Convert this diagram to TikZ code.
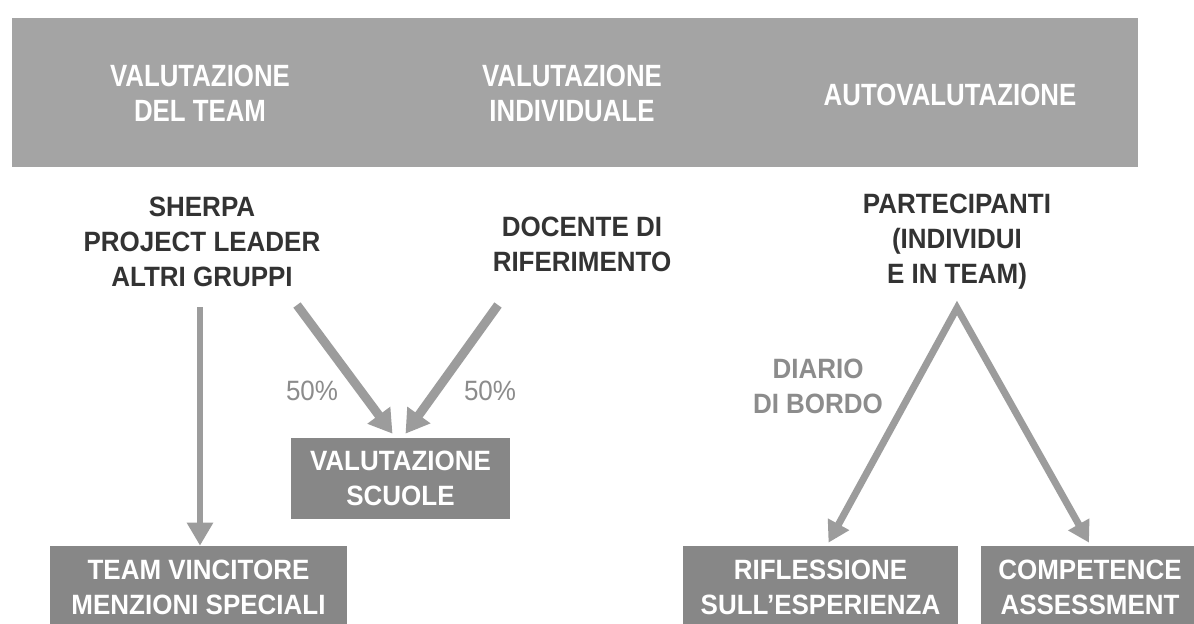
\documentclass[tikz,border=0pt]{standalone}
\usepackage{fontspec}
\setmainfont[FakeStretch=0.93]{Liberation Sans}
\newfontfamily\narrowfont[FakeStretch=0.84]{Liberation Sans}
\usetikzlibrary{arrows.meta,calc}
\definecolor{bandgrey}{HTML}{A4A4A4}
\definecolor{boxgrey}{HTML}{878787}
\definecolor{arrowgrey}{HTML}{9C9C9C}
\definecolor{labelgrey}{HTML}{8C8C8C}
\definecolor{textdark}{HTML}{333333}
\tikzset{
	band/.style={fill=bandgrey},
	head/.style={text=white, align=center, font=\narrowfont\bfseries\fontsize{17.5}{19.9}\selectfont},
	src/.style={text=textdark, align=center, font=\bfseries\fontsize{15.9}{19.9}\selectfont},
	res/.style={fill=boxgrey, text=white, align=center, inner sep=0pt, font=\bfseries\fontsize{15.9}{19.9}\selectfont},
	pct/.style={text=labelgrey, align=center, font=\fontsize{15.9}{19.9}\selectfont},
	diary/.style={text=labelgrey, align=center, font=\bfseries\fontsize{15.9}{19.9}\selectfont},
	arr/.style={draw=arrowgrey, line width=0.12cm, -{Triangle[length=0.46cm,width=0.5cm]}},
	arrb/.style={draw=arrowgrey, line width=0.18cm, -{Triangle[length=0.46cm,width=0.54cm]}},
	arrc/.style={draw=arrowgrey, line width=0.14cm, line join=miter, {Triangle[length=0.42cm,width=0.46cm]}-{Triangle[length=0.42cm,width=0.46cm]}},
}

\begin{document}
\begin{tikzpicture}[x=0.02cm, y=-0.02cm]
	\clip (0,0) rectangle (1194,623);
	\fill [white] (0,0) rectangle (1194,623);

	\fill [band] (12,18) rectangle (1138,167);
	\node [head] (dt) at (200,93) {VALUTAZIONE\\DEL TEAM};
	\node [head] (vi) at (572,93) {VALUTAZIONE\\INDIVIDUALE};
	\node [head] (av) at (950,95) {AUTOVALUTAZIONE};

	\node [src] (sh) at (202,242) {SHERPA\\PROJECT LEADER\\ALTRI GRUPPI};
	\node [src] (dr) at (582,244) {DOCENTE DI\\RIFERIMENTO};
	\node [src] (pt) at (957,242) {PARTECIPANTI\\(INDIVIDUI\\E IN TEAM)};

	\node [res, minimum width=5.94cm, minimum height=1.66cm] (tv) at (198.5,587.5) {TEAM VINCITORE\\MENZIONI SPECIALI};
	\node [res, minimum width=4.38cm, minimum height=1.62cm] (vs) at (400.5,478.5) {VALUTAZIONE\\SCUOLE};
	\node [res, minimum width=5.5cm, minimum height=1.66cm] (rf) at (820.5,587.5) {RIFLESSIONE\\SULL’ESPERIENZA};
	\node [res, minimum width=4.36cm, minimum height=1.66cm] (ca) at (1090,587.5) {COMPETENCE\\ASSESSMENT};

	\node [pct] (p1) at (312,391) {50\%};
	\node [pct] (p2) at (490,391) {50\%};
	\node [diary] (db) at (818,386) {DIARIO\\DI BORDO};

	\coordinate (sh1) at (200,307);
	\coordinate (sh2) at (297,305);
	\coordinate (dr1) at (498,305);
	\coordinate (pt1) at (957,308);

	\draw [arr] (sh1) -- (sh1 |- tv.north);
	\draw [arrb] (sh2) -- ($(vs.north)+(-8,-4)$);
	\draw [arrb] (dr1) -- ($(vs.north)+(5,-4)$);
	\draw [arrc] ($(rf.north)+(8,-3)$) -- (pt1) -- ($(ca.north)+(-1,-3)$);
\end{tikzpicture}
\end{document}
